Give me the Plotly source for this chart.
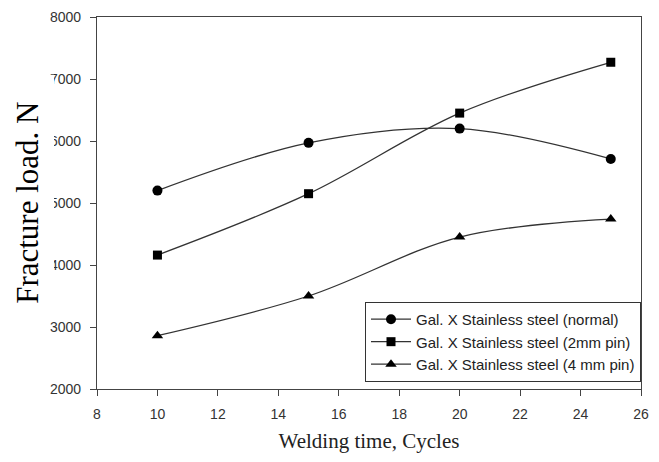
import plotly.graph_objects as go

cycles = [10, 15, 20, 25]
normal = [5200, 5970, 6200, 5710]
pin2mm = [4160, 5150, 6450, 7270]
pin4mm = [2860, 3500, 4450, 4740]

names = ["Gal. X Stainless steel (normal)",
         "Gal. X Stainless steel (2mm pin)",
         "Gal. X Stainless steel (4 mm pin)"]

fig = go.Figure()
for ys, nm, sym, sz in [(normal, names[0], "circle", 10),
                        (pin2mm, names[1], "square", 9),
                        (pin4mm, names[2], "triangle-up", 10)]:
    fig.add_trace(go.Scatter(
        x=cycles, y=ys, name=nm, mode="lines+markers",
        line=dict(color="#333333", width=1.3, shape="spline", smoothing=1.0),
        marker=dict(symbol=sym, size=sz, color="black"),
    ))

axis_common = dict(
    showline=True, linecolor="#444444", linewidth=1.2, mirror=True,
    ticks="outside", ticklen=6, tickcolor="#444444", tickwidth=1,
    ticklabelstandoff=6, ticklabeloverflow="allow",
    showgrid=False, zeroline=False, automargin=False,
    tickfont=dict(family="Liberation Sans", size=14, color="#333333"),
)

fig.update_layout(
    width=659, height=462,
    margin=dict(l=89, r=26, t=9, b=81, autoexpand=False),
    paper_bgcolor="white", plot_bgcolor="white",
    xaxis=dict(range=[8, 26], dtick=2, tick0=8,
               title=dict(text="Welding time, Cycles",
                          font=dict(family="Liberation Serif", size=21, color="#222222"),
                          standoff=12),
               **axis_common),
    yaxis=dict(range=[2000, 8000], dtick=1000, tick0=2000,
               **axis_common),
    legend=dict(x=1, xanchor="right", y=0.019, yanchor="bottom",
                bgcolor="white", bordercolor="#333333", borderwidth=1,
                font=dict(family="Liberation Sans", size=15, color="#222222"),
                tracegroupgap=0, itemwidth=40),
    showlegend=True,
    shapes=[dict(type="rect", xref="paper", yref="paper",
                 x0=-0.16, x1=-0.079, y0=0.237, y1=0.845,
                 fillcolor="white", line=dict(width=0), layer="above")],
    annotations=[dict(text="Fracture load. N", xref="paper", yref="paper",
                      x=-0.129, y=0.5, xanchor="center", yanchor="middle",
                      textangle=-90, showarrow=False,
                      font=dict(family="Liberation Serif", size=31, color="black"))],
)

fig.write_html("out.html")
